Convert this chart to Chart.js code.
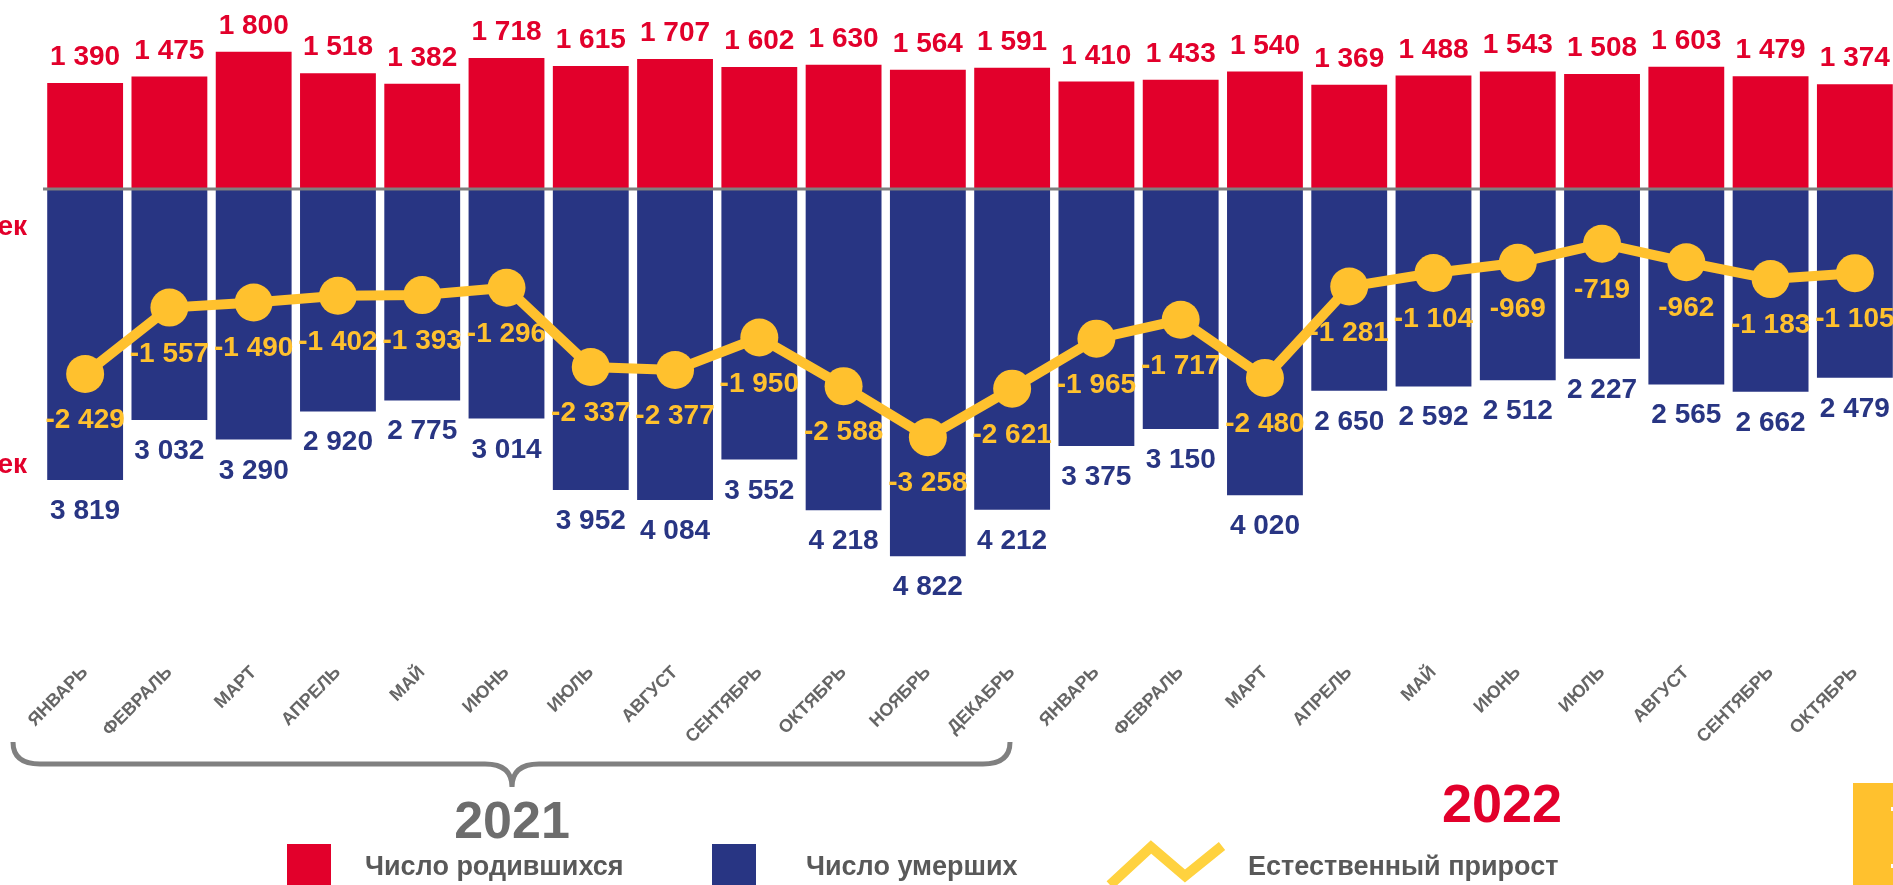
<!DOCTYPE html>
<html>
<head>
<meta charset="utf-8">
<script src="https://cdn.jsdelivr.net/npm/chart.js@4/dist/chart.umd.min.js"></script>
<style>
    html, body { margin: 0; padding: 0; background: #fff; overflow: hidden; }
    #wrap { position: relative; width: 1893px; height: 885px; overflow: hidden; }
    #myChart { display: block; }
</style>
</head>
<body>
<div id="wrap">
    <canvas id="myChart" width="1897" height="885"></canvas>
</div>
<script>
const months = ['ЯНВАРЬ', 'ФЕВРАЛЬ', 'МАРТ', 'АПРЕЛЬ', 'МАЙ', 'ИЮНЬ', 'ИЮЛЬ', 'АВГУСТ', 'СЕНТЯБРЬ', 'ОКТЯБРЬ', 'НОЯБРЬ', 'ДЕКАБРЬ',
    'ЯНВАРЬ', 'ФЕВРАЛЬ', 'МАРТ', 'АПРЕЛЬ', 'МАЙ', 'ИЮНЬ', 'ИЮЛЬ', 'АВГУСТ', 'СЕНТЯБРЬ', 'ОКТЯБРЬ'];
const births = [1390, 1475, 1800, 1518, 1382, 1718, 1615, 1707, 1602, 1630, 1564, 1591,
    1410, 1433, 1540, 1369, 1488, 1543, 1508, 1603, 1479, 1374];
const deaths = [3819, 3032, 3290, 2920, 2775, 3014, 3952, 4084, 3552, 4218, 4822, 4212,
    3375, 3150, 4020, 2650, 2592, 2512, 2227, 2565, 2662, 2479];
const growth = [-2429, -1557, -1490, -1402, -1393, -1296, -2337, -2377, -1950, -2588, -3258, -2621,
    -1965, -1717, -2480, -1281, -1104, -969, -719, -962, -1183, -1105];
const years = ['2021', '2022'];
const legendNames = ['Число родившихся', 'Число умерших', 'Естественный прирост'];

const RED = '#E2002B';
const BLUE = '#283583';
const YELLOW = '#FFC12E';
const GRAY = '#595959';
const FONT = '"Liberation Sans", Arial, sans-serif';

function fmt(v) {
    let s = String(Math.abs(v)).replace(/\B(?=(\d{3})+(?!\d))/g, ' ');
    return (v < 0 ? '-' : '') + s;
}

const labelsPlugin = {
    id: 'labelsPlugin',
    afterDatasetsDraw(chart) {
        let ctx = chart.ctx;
        let y0 = chart.scales.y.getPixelForValue(0);
        ctx.save();
        // zero line
        ctx.strokeStyle = '#7F7F7F';
        ctx.lineWidth = 3;
        ctx.beginPath();
        ctx.moveTo(chart.chartArea.left, y0);
        ctx.lineTo(chart.width, y0);
        ctx.stroke();

        ctx.font = 'bold 28px ' + FONT;
        ctx.textAlign = 'center';
        ctx.textBaseline = 'alphabetic';
        let mb = chart.getDatasetMeta(1);
        let md = chart.getDatasetMeta(2);
        let ml = chart.getDatasetMeta(0);
        for (let i = 0; i < births.length; i++) {
            ctx.fillStyle = RED;
            ctx.fillText(fmt(births[i]), mb.data[i].x, mb.data[i].y - 18);
            ctx.fillStyle = BLUE;
            ctx.fillText(fmt(deaths[i]), md.data[i].x, md.data[i].y + 39);
        }
        ctx.fillStyle = YELLOW;
        for (let i = 0; i < growth.length; i++) {
            ctx.fillText(fmt(growth[i]), ml.data[i].x, ml.data[i].y + 54);
        }
        ctx.restore();
    },
    afterDraw(chart) {
        let ctx = chart.ctx;
        ctx.save();
        // cut-off unit labels on the left
        ctx.fillStyle = RED;
        ctx.font = 'bold 28px ' + FONT;
        ctx.textAlign = 'right';
        ctx.fillText('человек', 27, 235);
        ctx.fillText('человек', 27, 473);

        // brace under 2021
        ctx.strokeStyle = '#808080';
        ctx.lineWidth = 5;
        ctx.beginPath();
        ctx.moveTo(13, 742);
        ctx.quadraticCurveTo(13, 764, 40, 764);
        ctx.lineTo(485, 764);
        ctx.quadraticCurveTo(512, 764, 512, 787);
        ctx.moveTo(512, 787);
        ctx.quadraticCurveTo(512, 764, 539, 764);
        ctx.lineTo(983, 764);
        ctx.quadraticCurveTo(1010, 764, 1010, 742);
        ctx.stroke();

        // years
        ctx.textAlign = 'center';
        ctx.font = 'bold 52px ' + FONT;
        ctx.fillStyle = '#6D6D6D';
        ctx.fillText(years[0], 512, 838);
        ctx.font = 'bold 54px ' + FONT;
        ctx.fillStyle = RED;
        ctx.fillText(years[1], 1502, 822);

        // legend
        ctx.fillStyle = RED;
        ctx.fillRect(287, 844, 44, 41);
        ctx.fillStyle = BLUE;
        ctx.fillRect(712, 844, 44, 41);
        ctx.strokeStyle = '#FFD23F';
        ctx.lineWidth = 10;
        ctx.lineJoin = 'miter';
        ctx.beginPath();
        ctx.moveTo(1110, 885);
        ctx.lineTo(1151, 847);
        ctx.lineTo(1185, 876);
        ctx.lineTo(1222, 846);
        ctx.stroke();

        ctx.font = 'bold 27px ' + FONT;
        ctx.fillStyle = GRAY;
        ctx.textAlign = 'left';
        ctx.fillText(legendNames[0], 365, 875);
        ctx.fillText(legendNames[1], 806, 875);
        ctx.fillText(legendNames[2], 1248, 875);

        // yellow box at bottom right
        ctx.fillStyle = YELLOW;
        ctx.fillRect(1853, 783, 44, 102);
        ctx.fillStyle = '#fff';
        ctx.fillRect(1891, 807, 4, 4);
        ctx.fillRect(1891, 864, 4, 4);
        ctx.restore();
    }
};

let ctx = document.getElementById('myChart').getContext('2d');
let myChart = new Chart(ctx, {
    data: {
        labels: months,
        datasets: [{
            type: 'line',
            label: legendNames[2],
            data: growth,
            borderColor: YELLOW,
            backgroundColor: YELLOW,
            borderWidth: 10,
            pointRadius: 19,
            pointBackgroundColor: YELLOW,
            pointBorderWidth: 0,
            tension: 0,
            order: 0
        }, {
            type: 'bar',
            label: legendNames[0],
            data: births,
            backgroundColor: RED,
            barPercentage: 0.9,
            categoryPercentage: 1,
            order: 1
        }, {
            type: 'bar',
            label: legendNames[1],
            data: deaths.map(v => -v),
            backgroundColor: BLUE,
            barPercentage: 0.9,
            categoryPercentage: 1,
            order: 2
        }]
    },
    options: {
        responsive: false,
        animation: false,
        layout: { autoPadding: false, padding: { left: 43, right: 0, top: 0, bottom: 0 } },
        plugins: {
            legend: { display: false },
            tooltip: { enabled: false }
        },
        scales: {
            x: {
                stacked: true,
                grid: { display: false, drawTicks: false },
                border: { display: false },
                ticks: {
                    color: '#666666',
                    font: { family: FONT, size: 18, weight: 'bold' },
                    minRotation: 45,
                    maxRotation: 45,
                    autoSkip: false,
                    padding: 22
                },
                afterFit(scale) { scale.height = 245; }
            },
            y: {
                display: false,
                stacked: false,
                min: -5920,
                max: 2480
            }
        }
    },
    plugins: [labelsPlugin]
});
</script>
</body>
</html>
